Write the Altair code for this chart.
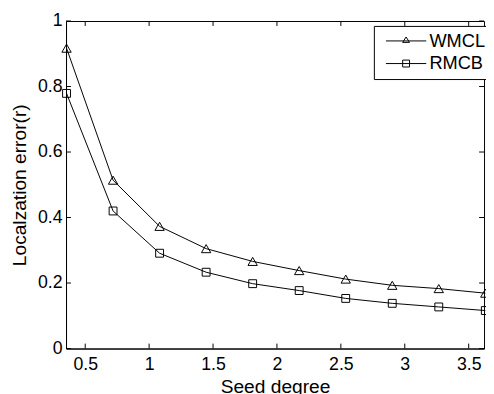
import altair as alt
import pandas as pd

# ---- data ----
seed_degree = [0.354, 0.718, 1.082, 1.446, 1.810, 2.174, 2.538, 2.902, 3.266, 3.630]
wmcl = [0.917, 0.514, 0.373, 0.305, 0.266, 0.238, 0.212, 0.193, 0.183, 0.169]
rmcb = [0.779, 0.420, 0.291, 0.233, 0.198, 0.177, 0.153, 0.138, 0.127, 0.116]
series_names = ["WMCL", "RMCB"]
x_ticks = [0.5, 1.0, 1.5, 2.0, 2.5, 3.0, 3.5]
y_ticks = [0.0, 0.2, 0.4, 0.6, 0.8, 1.0]

W, H = 425, 333
FONT = "Liberation Sans"

rows = []
for name, vals in zip(series_names, [wmcl, rmcb]):
    for xv, yv in zip(seed_degree, vals):
        rows.append({"series": name, "x": xv, "y": yv})
df = pd.DataFrame(rows)

xscale = alt.Scale(domain=[0.35, 3.62], nice=False, zero=False)
yscale = alt.Scale(domain=[0, 1], nice=False, zero=False)

xaxis = alt.Axis(values=x_ticks, format="~g", ticks=False, grid=False,
                 labelFontSize=18, labelFont=FONT, labelColor="black",
                 labelPadding=7, domainColor="black",
                 title="Seed degree", titleFontSize=19.5, titleFont=FONT,
                 titleFontWeight="normal", titleColor="black", titlePadding=5)
yaxis = alt.Axis(values=y_ticks, format="~g", ticks=False, grid=False,
                 labelFontSize=18, labelFont=FONT, labelColor="black",
                 labelPadding=4, domainColor="black",
                 title="Localzation error(r)", titleFontSize=19.5, titleFont=FONT,
                 titleFontWeight="normal", titleColor="black", titlePadding=8)

base = alt.Chart(df)

lines = base.mark_line(color="black", strokeWidth=1, clip=False).encode(
    x=alt.X("x:Q", scale=xscale, axis=xaxis),
    y=alt.Y("y:Q", scale=yscale, axis=yaxis),
    detail="series:N",
)

tri_pts = base.transform_filter(alt.datum.series == "WMCL").mark_point(
    shape="triangle-up", filled=False, color="black", size=90, strokeWidth=1, opacity=1
).encode(x=alt.X("x:Q", scale=xscale), y=alt.Y("y:Q", scale=yscale))

sq_pts = base.transform_filter(alt.datum.series == "RMCB").mark_point(
    shape="square", filled=False, color="black", size=64, strokeWidth=1, opacity=1
).encode(x=alt.X("x:Q", scale=xscale), y=alt.Y("y:Q", scale=yscale))

# legend glyphs: line segment with marker (units of 5 px for symbolSize 100)
tri_path = "M-0.6,0H7.6M3.5,-0.8L4.2,0.3H2.8Z"
sq_path = "M-0.6,0H7.6M2.8,-0.7H4.2V0.7H2.8Z"

legend_layer = base.transform_filter("false").mark_point(
    filled=False, color="black", size=100, strokeWidth=1, opacity=1
).encode(
    x=alt.X("x:Q", scale=xscale),
    y=alt.Y("y:Q", scale=yscale),
    shape=alt.Shape("series:N",
                    scale=alt.Scale(domain=series_names, range=[tri_path, sq_path]),
                    legend=alt.Legend(title=None, orient="none", legendX=313, legendY=5,
                                      labelFontSize=18.5, labelFont=FONT, labelColor="black",
                                      strokeColor="black", fillColor="white",
                                      padding=6, rowPadding=4, labelOffset=32,
                                      symbolSize=100,
                                      symbolStrokeColor="black", symbolStrokeWidth=1,
                                      symbolFillColor="transparent")),
)

tdf = pd.DataFrame({"t": y_ticks})
xtdf = pd.DataFrame({"t": x_ticks})
left_ticks = alt.Chart(tdf).mark_rule(color="black").encode(
    y=alt.Y("t:Q", scale=yscale), x=alt.value(0), x2=alt.value(5))
right_ticks = alt.Chart(tdf).mark_rule(color="black").encode(
    y=alt.Y("t:Q", scale=yscale), x=alt.value(W - 5), x2=alt.value(W))
bottom_ticks = alt.Chart(xtdf).mark_rule(color="black").encode(
    x=alt.X("t:Q", scale=xscale), y=alt.value(H), y2=alt.value(H - 5))
top_ticks = alt.Chart(xtdf).mark_rule(color="black").encode(
    x=alt.X("t:Q", scale=xscale), y=alt.value(0), y2=alt.value(5))

chart = alt.layer(
    left_ticks, right_ticks, bottom_ticks, top_ticks,
    lines, tri_pts, sq_pts, legend_layer
).properties(
    width=W, height=H,
    autosize=alt.AutoSizeParams(type="none"),
    padding={"left": 59, "top": 10, "right": 2, "bottom": 43},
    background="white",
).configure_view(stroke="black", strokeWidth=1)

chart.save("out.html", embed_options={"renderer": "svg", "actions": False})
